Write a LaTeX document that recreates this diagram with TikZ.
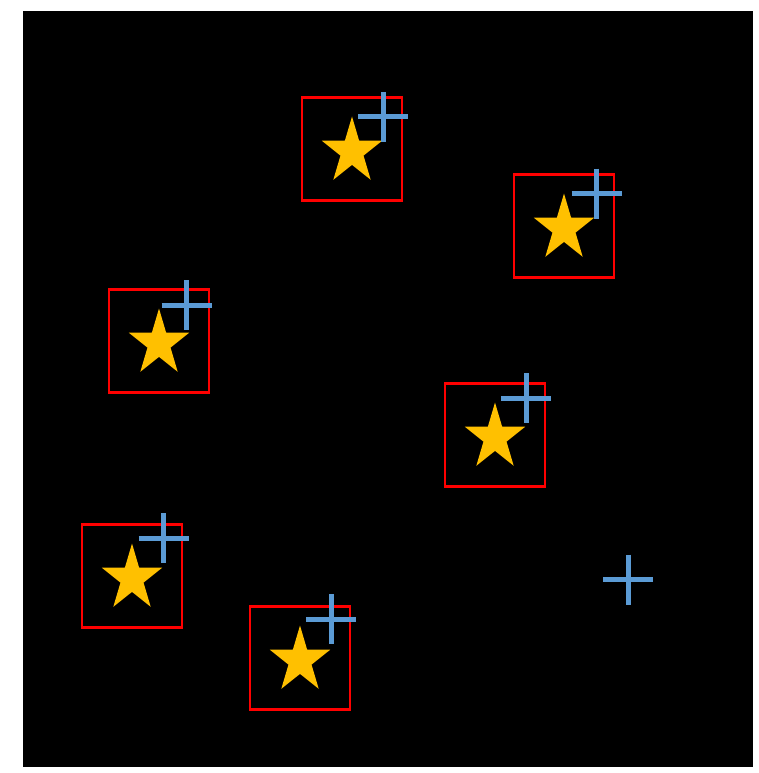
\documentclass[tikz,border=0pt]{standalone}
\definecolor{starc}{HTML}{FFC000}
\definecolor{crossc}{HTML}{5B9BD5}
\definecolor{boxc}{HTML}{FF0000}
\tikzset{
  redbox/.style={draw=boxc, line width=2.8pt, rectangle, minimum width=100pt, minimum height=102.5pt, inner sep=0pt, outer sep=0pt},
  crossline/.style={draw=crossc, line width=5pt},
  starfill/.style={fill=starc}
}
\newcommand{\mystar}[2]{%
  \begin{scope}[shift={(#1,#2)}]
    \fill[starfill] (0,-35) -- (7.14,-10.8) -- (30.24,-10.8) -- (11.54,4.13) -- (18.7,28.3) -- (0,13.4) -- (-18.7,28.3) -- (-11.54,4.13) -- (-30.24,-10.8) -- (-7.14,-10.8) -- cycle;
  \end{scope}}
\newcommand{\mycross}[1]{%
  \draw[crossline] ([xshift=-25pt]#1) -- ([xshift=25pt]#1);
  \draw[crossline] ([yshift=25pt]#1) -- ([yshift=-25pt]#1);}
\begin{document}
\begin{tikzpicture}[x=1pt,y=-1pt]
\useasboundingbox (0,0) rectangle (758,773);
\fill[black] (23,11) rectangle (753,767);
\foreach \i/\bx/\by/\cx/\cy in {1/352/149/383/117, 2/564/226/596.5/193.5, 3/159/341/186.5/305, 4/495/435/526/398, 5/132/576/163.5/538, 6/300/658/331/619}{
  \node[redbox] (b\i) at (\bx,\by) {};
  \mystar{\bx}{\by+2.5}
  \coordinate (c\i) at (\cx,\cy);
  \mycross{c\i}
}
\coordinate (c7) at (628,579.5);
\mycross{c7}
\end{tikzpicture}
\end{document}
